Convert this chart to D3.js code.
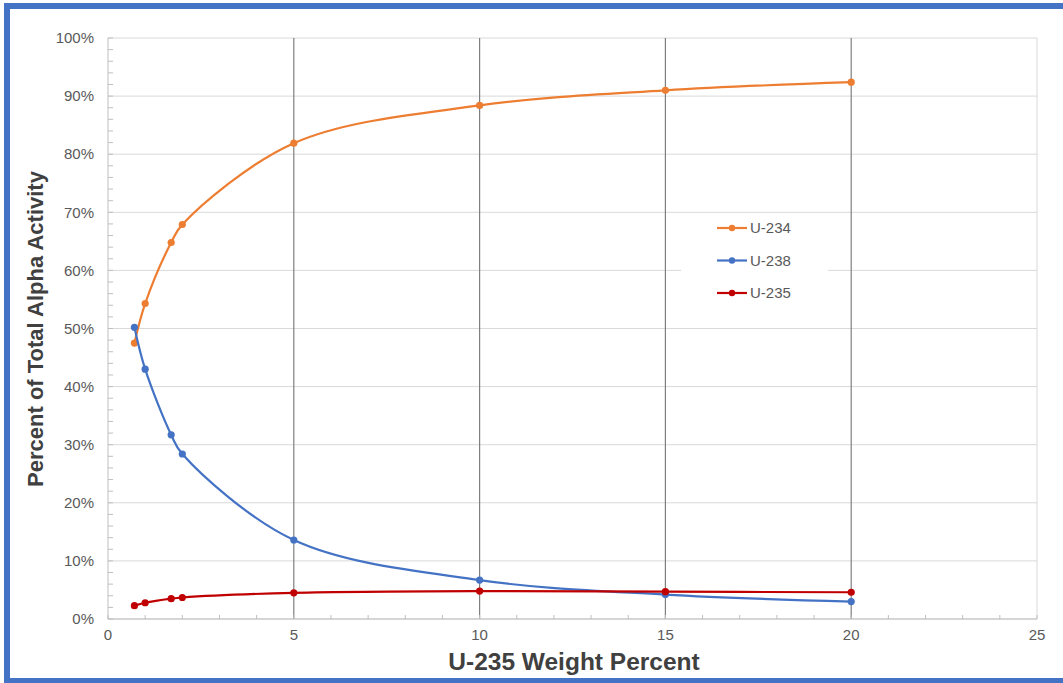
<!DOCTYPE html>
<html><head><meta charset="utf-8">
<script src="https://cdn.jsdelivr.net/npm/d3@7"></script>
<style>body{margin:0;background:#fff;}svg{display:block;font-family:Arial,"Liberation Sans",sans-serif;}</style>
</head><body>
<script>
const xValues = [0.711, 1, 1.7, 2, 5, 10, 15, 20];
const u234 = [47.5, 54.3, 64.8, 67.9, 81.9, 88.4, 91.0, 92.4];
const u238 = [50.2, 43.0, 31.7, 28.4, 13.6, 6.7, 4.2, 3.0];
const u235 = [2.3, 2.8, 3.5, 3.7, 4.5, 4.8, 4.7, 4.6];
const seriesNames = ["U-234", "U-238", "U-235"];
const xTicks = [0, 5, 10, 15, 20, 25];
const yTicks = [0, 10, 20, 30, 40, 50, 60, 70, 80, 90, 100];

const W = 1063, H = 683;
const svg = d3.select("body").append("svg").attr("width", W).attr("height", H);
const x = d3.scaleLinear().domain([0, 25]).range([108, 1037]);
const y = d3.scaleLinear().domain([0, 100]).range([619, 38]);

// frame
svg.append("rect").attr("x", 7).attr("y", 6).attr("width", 1120).attr("height", 675)
  .attr("fill", "none").attr("stroke", "#4472C4").attr("stroke-width", 6);

// horizontal gridlines
svg.append("g").selectAll("line").data(yTicks).join("line")
  .attr("x1", x(0)).attr("x2", x(25)).attr("y1", d => y(d)).attr("y2", d => y(d))
  .attr("stroke", "#d9d9d9").attr("stroke-width", 1);
// right border
svg.append("line").attr("x1", x(25)).attr("x2", x(25)).attr("y1", y(0)).attr("y2", y(100))
  .attr("stroke", "#d9d9d9");
// vertical gridlines
svg.append("g").selectAll("line").data([5, 10, 15, 20]).join("line")
  .attr("x1", d => x(d)).attr("x2", d => x(d)).attr("y1", y(0)).attr("y2", y(100))
  .attr("stroke", "#7f7f7f").attr("stroke-width", 1.2);

// axes lines
svg.append("line").attr("x1", x(0)).attr("x2", x(0)).attr("y1", y(0)).attr("y2", y(100)).attr("stroke", "#bfbfbf");
svg.append("line").attr("x1", x(0)).attr("x2", x(25)).attr("y1", y(0)).attr("y2", y(0)).attr("stroke", "#bfbfbf");
// minor ticks
svg.append("g").selectAll("line").data(d3.range(0, 101, 2)).join("line")
  .attr("x1", x(0)).attr("x2", x(0) + 5).attr("y1", d => y(d)).attr("y2", d => y(d)).attr("stroke", "#bfbfbf");
svg.append("g").selectAll("line").data(d3.range(0, 26, 1)).join("line")
  .attr("x1", d => x(d)).attr("x2", d => x(d)).attr("y1", y(0)).attr("y2", y(0) - 4).attr("stroke", "#bfbfbf");

// tick labels
svg.append("g").selectAll("text").data(yTicks).join("text")
  .attr("x", 94).attr("y", d => y(d)).attr("dy", "0.35em").attr("text-anchor", "end")
  .attr("font-size", 15).attr("fill", "#595959").text(d => d + "%");
svg.append("g").selectAll("text").data(xTicks).join("text")
  .attr("x", d => x(d)).attr("y", 640).attr("text-anchor", "middle")
  .attr("font-size", 15).attr("fill", "#595959").text(d => d);

// titles
svg.append("text").attr("x", 574).attr("y", 670).attr("text-anchor", "middle")
  .attr("font-size", 24.5).attr("font-weight", "bold").attr("fill", "#404040").text("U-235 Weight Percent");
svg.append("text").attr("transform", "translate(43,329) rotate(-90)").attr("text-anchor", "middle")
  .attr("font-size", 22).attr("font-weight", "bold").attr("fill", "#404040").text("Percent of Total Alpha Activity");

// series
const colors = ["#ED7D31", "#4472C4", "#C00000"];
const series = [u234, u238, u235];
const line = d3.line().x((d, i) => x(xValues[i])).y(d => y(d)).curve(d3.curveCatmullRom.alpha(0.5));
series.forEach((s, k) => {
  svg.append("path").attr("d", line(s)).attr("fill", "none").attr("stroke", colors[k]).attr("stroke-width", 2.2);
  svg.append("g").selectAll("circle").data(s).join("circle")
    .attr("cx", (d, i) => x(xValues[i])).attr("cy", d => y(d)).attr("r", 3.6).attr("fill", colors[k]);
});

// legend
svg.append("rect").attr("x", 681).attr("y", 214).attr("width", 147).attr("height", 92).attr("fill", "#fff");
seriesNames.forEach((n, k) => {
  const ly = 228 + k * 32.5;
  svg.append("line").attr("x1", 717).attr("x2", 747).attr("y1", ly).attr("y2", ly).attr("stroke", colors[k]).attr("stroke-width", 2.2);
  svg.append("circle").attr("cx", 732).attr("cy", ly).attr("r", 3.2).attr("fill", colors[k]);
  svg.append("text").attr("x", 750).attr("y", ly).attr("dy", "0.35em").attr("font-size", 15).attr("fill", "#595959").text(n);
});
</script>
</body></html>
